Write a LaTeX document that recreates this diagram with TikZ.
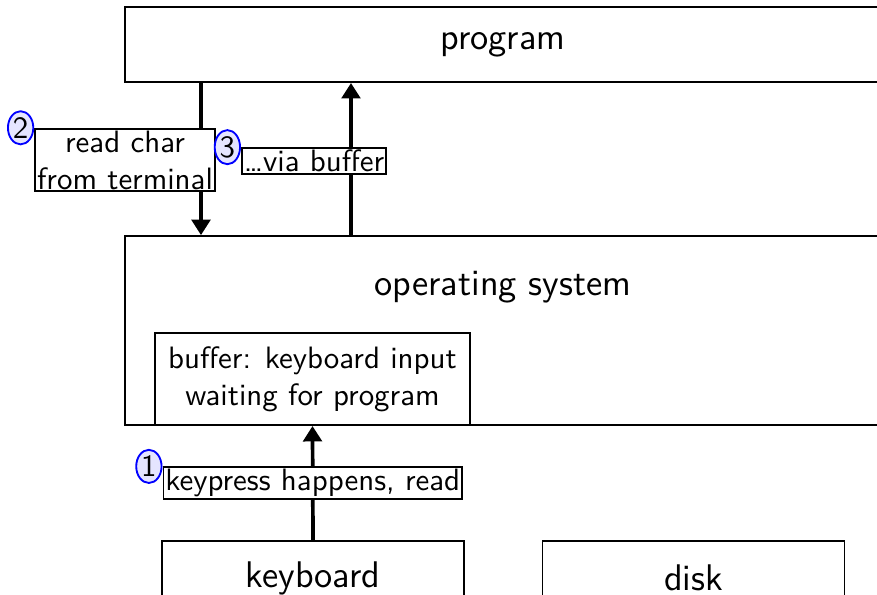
\documentclass[tikz,border=0pt]{standalone}
\usepackage{amsmath}
\usetikzlibrary{arrows.meta,shapes.geometric}

\begin{document}
\begin{tikzpicture}[x=0.01137cm,y=0.01137cm]
\tikzstyle{every node}+=[font=\sffamily]
\tikzstyle{part}=[draw=black,semithick,inner sep=0pt,font=\sffamily\large]
\tikzstyle{wide}=[minimum width=244.6pt]
\tikzstyle{device}=[minimum width=97.7pt,minimum height=23.9pt]
\tikzstyle{note}=[draw=black,semithick,fill=white,inner sep=0.6pt,align=center]
\tikzstyle{stepnum}=[ellipse,draw=blue,fill=blue!10,semithick,inner sep=0.4pt,anchor=east]
\tikzstyle{flow}=[black,very thick,-{Triangle[length=5pt,width=6pt]}]
\useasboundingbox (0,0) rectangle (877,-594);
\clip (0,0) rectangle (877,-594);
\node [part,wide,minimum height=24.3pt] (program) at (503,-44.5) {program};
\node [part,wide,minimum height=61.1pt] (os) at (503,-330.5) {};
\node [font=\sffamily\large] (ostitle) at (503,-287) {operating system};
\node [part,font=\sffamily,align=center,minimum width=101.9pt,minimum height=29.8pt] (buffer) at (312.5,-379) {buffer: keyboard input\\waiting for program};
\node [part,device] (keyboard) at (313,-578) {keyboard};
\node [part,device] (disk) at (693.5,-578) {disk};
% step 1
\draw [flow] (keyboard.north) -- (buffer.south) node [note,midway] (keylbl) {keypress happens, read};
\node [stepnum] (one) at (keylbl.north west) {1};
% steps 2 and 3
\coordinate (readx) at (201,0);
\coordinate (viax) at (351,0);
\draw [flow] (readx |- program.south) -- (readx |- os.north);
\node [note] (readlbl) at (125,-160) {read char\\from terminal};
\node [stepnum] (two) at (readlbl.north west) {2};
\draw [flow] (viax |- os.north) -- (viax |- program.south);
\node [note] (vialbl) at (314,-161) {\ldots{}via buffer};
\node [stepnum] (three) at (vialbl.north west) {3};
\end{tikzpicture}
\end{document}
